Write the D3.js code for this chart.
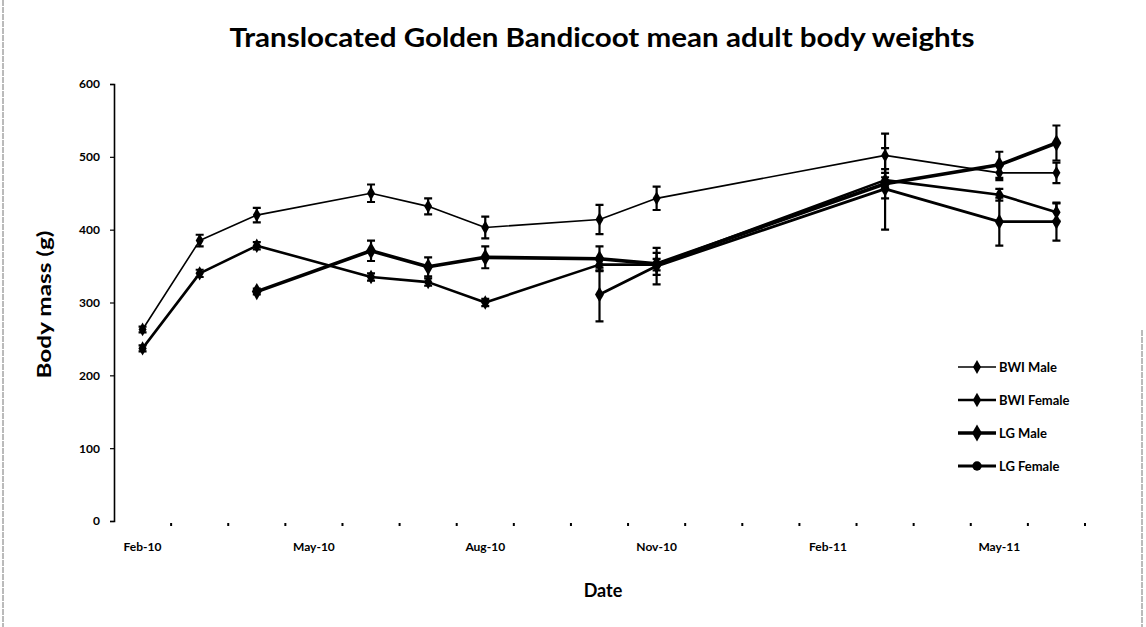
<!DOCTYPE html>
<html>
<head>
<meta charset="utf-8">
<script src="https://cdn.jsdelivr.net/npm/d3@7"></script>
<style>
    body { margin: 0; background: #fff; }
    svg text { font-family: Lato, "Open Sans", sans-serif; fill: #000; }
</style>
</head>
<body>
<div id="chart"></div>
<script>

// Data

const months = ["Feb-10", "Mar-10", "Apr-10", "May-10", "Jun-10", "Jul-10", "Aug-10", "Sep-10",
    "Oct-10", "Nov-10", "Dec-10", "Jan-11", "Feb-11", "Mar-11", "Apr-11", "May-11", "Jun-11"];
const xLabels = ["Feb-10", "May-10", "Aug-10", "Nov-10", "Feb-11", "May-11"];
const yTicks = [0, 100, 200, 300, 400, 500, 600];

const bwiDates = ["Feb-10", "Mar-10", "Apr-10", "Jun-10", "Jul-10", "Aug-10", "Oct-10", "Nov-10", "Mar-11", "May-11", "Jun-11"];
const bwiMale = [263, 385, 420, 450, 432, 403, 414, 443, 502, 478, 478];
const bwiMaleErr = [4, 8, 10, 12, 11, 15, 20, 16, 30, 10, 14];
const bwiFemale = [237, 340, 378, 335, 328, 300, 352, 352, 468, 448, 424];
const bwiFemaleErr = [4, 5, 5, 5, 5, 5, 8, 8, 10, 8, 12];

const lgMaleDates = ["Apr-10", "Jun-10", "Jul-10", "Aug-10", "Oct-10", "Nov-10", "Mar-11", "May-11", "Jun-11"];
const lgMale = [315, 371, 349, 362, 360, 353, 463, 489, 519];
const lgMaleErr = [4, 14, 13, 15, 17, 15, 20, 18, 24];

const lgFemaleDates = ["Oct-10", "Nov-10", "Mar-11", "May-11", "Jun-11"];
const lgFemale = [311, 350, 456, 411, 411];
const lgFemaleErr = [37, 25, 56, 33, 26];

const seriesNames = ["BWI Male", "BWI Female", "LG Male", "LG Female"];

const series = [
    { name: seriesNames[0], dates: bwiDates, values: bwiMale, errors: bwiMaleErr, width: 1.6, symbol: d3.symbolDiamond, size: 55 },
    { name: seriesNames[1], dates: bwiDates, values: bwiFemale, errors: bwiFemaleErr, width: 2.6, symbol: d3.symbolDiamond, size: 60 },
    { name: seriesNames[2], dates: lgMaleDates, values: lgMale, errors: lgMaleErr, width: 3.6, symbol: d3.symbolDiamond, size: 85 },
    { name: seriesNames[3], dates: lgFemaleDates, values: lgFemale, errors: lgFemaleErr, width: 2.8, symbol: d3.symbolDiamond, size: 70 },
];

// Configure

const width = 1146, height = 627;
const margin = { top: 84, bottom: 103, left: 114, right: 61 };

const svg = d3.select("#chart").append("svg")
    .attr("width", width)
    .attr("height", height);

// Scales

const xScale = d3.scaleBand()
    .domain(months)
    .range([margin.left, width - margin.right])
    .paddingInner(0)
    .paddingOuter(0);

const xMid = m => xScale(m) + xScale.bandwidth() / 2;

const yScale = d3.scaleLinear()
    .domain([0, 600])
    .range([height - margin.bottom - 3, margin.top]);

// Page border

svg.append("line")
    .attr("x1", 3).attr("x2", 3).attr("y1", 0).attr("y2", height)
    .attr("stroke", "#777").attr("stroke-width", 1).attr("stroke-dasharray", "6,1");

svg.append("line")
    .attr("x1", 1142).attr("x2", 1142).attr("y1", 330).attr("y2", height)
    .attr("stroke", "#777").attr("stroke-width", 1).attr("stroke-dasharray", "6,1");

// Title

svg.append("text")
    .attr("x", 602)
    .attr("y", 47)
    .attr("text-anchor", "middle")
    .attr("font-size", 26)
    .attr("font-weight", "bold")
    .attr("textLength", 745)
    .attr("lengthAdjust", "spacingAndGlyphs")
    .text("Translocated Golden Bandicoot mean adult body weights");

// Y-axis

const yAxis = d3.axisLeft(yScale)
    .tickValues(yTicks)
    .tickSize(4)
    .tickPadding(10);

const yG = svg.append("g")
    .attr("transform", "translate(" + margin.left + ",0)")
    .call(yAxis);

yG.select(".domain").attr("stroke", "#000").attr("stroke-width", 1.6);
yG.selectAll(".tick line").attr("stroke", "#000").attr("stroke-width", 1.2);
yG.selectAll(".tick text")
    .attr("font-size", 12)
    .attr("font-weight", "bold")
    .style("font-family", "Lato, sans-serif");

svg.append("text")
    .attr("transform", "translate(51," + (yScale(300) + 2) + ") rotate(-90)")
    .attr("text-anchor", "middle")
    .attr("font-size", 19)
    .attr("font-weight", "bold")
    .attr("textLength", 148)
    .attr("lengthAdjust", "spacingAndGlyphs")
    .text("Body mass (g)");

// X-axis (tick marks at month boundaries, labels at month centers)

const axisY = yScale(0);

svg.append("g")
    .selectAll("rect")
    .data(months)
    .join("rect")
    .attr("x", m => xScale(m) + xScale.bandwidth() - 1)
    .attr("y", axisY + 2)
    .attr("width", 2)
    .attr("height", 3)
    .attr("fill", "#000");

svg.append("g")
    .selectAll("text")
    .data(xLabels)
    .join("text")
    .attr("x", m => xMid(m))
    .attr("y", axisY + 30)
    .attr("text-anchor", "middle")
    .attr("font-size", 12)
    .attr("font-weight", "bold")
    .text(m => m);

svg.append("text")
    .attr("x", 603)
    .attr("y", 597)
    .attr("text-anchor", "middle")
    .attr("font-size", 18)
    .attr("font-weight", "bold")
    .text("Date");

// Series

const line = d3.line()
    .x(d => xMid(d.date))
    .y(d => yScale(d.value));

series.forEach(s => {
    const rows = s.dates.map((date, i) => ({ date: date, value: s.values[i], error: s.errors[i] }));
    const g = svg.append("g");

    g.append("path")
        .attr("fill", "none")
        .attr("stroke", "#000")
        .attr("stroke-width", s.width)
        .attr("stroke-linejoin", "round")
        .attr("d", line(rows));

    // Error bars
    g.selectAll(".err")
        .data(rows)
        .join("path")
        .attr("class", "err")
        .attr("fill", "none")
        .attr("stroke", "#000")
        .attr("stroke-width", 2.2)
        .attr("d", d => {
            const x = xMid(d.date);
            const y0 = yScale(d.value - d.error);
            const y1 = yScale(d.value + d.error);
            return "M" + x + "," + y0 + "V" + y1 +
                "M" + (x - 4) + "," + y0 + "H" + (x + 4) +
                "M" + (x - 4) + "," + y1 + "H" + (x + 4);
        });

    // Markers
    g.selectAll(".marker")
        .data(rows)
        .join("path")
        .attr("class", "marker")
        .attr("fill", "#000")
        .attr("transform", d => "translate(" + xMid(d.date) + "," + yScale(d.value) + ")")
        .attr("d", d3.symbol().type(s.symbol).size(s.size));
});

// Legend

const legend = svg.append("g")
    .attr("transform", "translate(958,367)");

series.forEach((s, i) => {
    const row = legend.append("g").attr("transform", "translate(0," + (i * 33) + ")");
    row.append("line")
        .attr("x1", 0).attr("x2", 38)
        .attr("stroke", "#000")
        .attr("stroke-width", s.width);
    row.append("path")
        .attr("transform", "translate(19,0)")
        .attr("fill", "#000")
        .attr("d", d3.symbol().type(i === 3 ? d3.symbolCircle : s.symbol).size(s.size));
    row.append("text")
        .attr("x", 41)
        .attr("y", 4.5)
        .attr("font-size", 13)
        .attr("font-weight", "bold")
        .text(s.name);
});

</script>
</body>
</html>
